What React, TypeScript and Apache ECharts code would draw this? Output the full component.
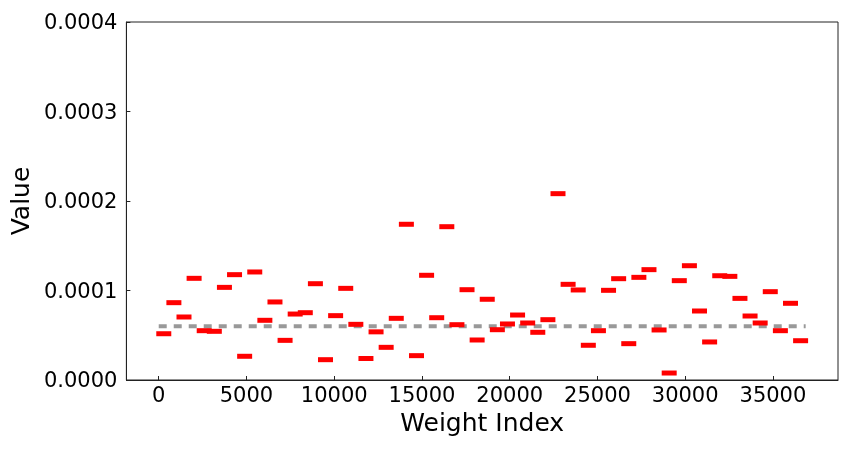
import React, { useEffect, useRef } from "react";
import * as echarts from "echarts";

// Chunk size of the weight index (each marker is the centre of a chunk)
const CHUNK = 576;
const TOTAL = 36864;
const REF_VALUE = 0.00006;

const values: number[] = [
  0.0000517, 0.0000864, 0.0000704, 0.0001136, 0.0000551, 0.0000544, 0.0001035, 0.0001177,
  0.0000265, 0.0001207, 0.0000667, 0.0000872, 0.0000443, 0.0000737, 0.0000752, 0.0001076,
  0.0000227, 0.0000719, 0.0001024, 0.0000622, 0.000024, 0.0000538, 0.0000365, 0.0000689,
  0.000174, 0.0000272, 0.000117, 0.0000696, 0.0001713, 0.0000618, 0.0001009, 0.0000447,
  0.0000902, 0.0000562, 0.0000626, 0.0000726, 0.0000637, 0.0000533, 0.0000674, 0.0002082,
  0.0001069, 0.0001006, 0.0000388, 0.0000551, 0.0001002, 0.0001132, 0.0000406, 0.0001147,
  0.0001233, 0.0000559, 0.0000078, 0.000111, 0.0001277, 0.0000771, 0.0000425, 0.0001165,
  0.0001158, 0.0000912, 0.0000715, 0.0000637, 0.0000987, 0.0000551, 0.0000857, 0.0000439,
];

const xTicks: number[] = [0, 5000, 10000, 15000, 20000, 25000, 30000, 35000];
const yTicks: number[] = [0, 0.0001, 0.0002, 0.0003, 0.0004];

export default function App() {
  const ref = useRef<HTMLDivElement>(null);
  useEffect(() => {
    if (!ref.current) return;
    const chart = echarts.init(ref.current, undefined, { renderer: "svg" });
    const font = "DejaVu Sans";
    const margin = TOTAL * 0.05;
    const points = values.map((v, i) => [i * CHUNK + CHUNK / 2, v]);
    chart.setOption({
      animation: false,
      textStyle: { fontFamily: font },
      grid: {
        left: 124,
        top: 22,
        right: 14,
        bottom: 69,
        show: true,
        borderColor: "#222",
        borderWidth: 1,
        backgroundColor: "transparent",
      },
      xAxis: {
        type: "value",
        min: -margin,
        max: TOTAL + margin,
        name: "Weight Index",
        nameLocation: "middle",
        nameGap: 28,
        nameTextStyle: { fontSize: 25, color: "#000", fontFamily: font },
        axisLine: { show: true, onZero: false, lineStyle: { color: "#222", width: 1 } },
        axisTick: {
          show: true,
          inside: true,
          length: 4,
          customValues: xTicks,
          lineStyle: { color: "#222" },
        },
        axisLabel: {
          customValues: xTicks,
          fontSize: 21,
          color: "#000",
          margin: 4,
          fontFamily: font,
          formatter: (v: number) => String(v),
        },
        splitLine: { show: false },
      },
      yAxis: {
        type: "value",
        min: yTicks[0],
        max: yTicks[yTicks.length - 1],
        interval: 0.0001,
        name: "Value",
        nameLocation: "middle",
        nameGap: 86,
        nameTextStyle: { fontSize: 25, color: "#000", fontFamily: font },
        axisLine: { show: true, onZero: false, lineStyle: { color: "#222", width: 1 } },
        axisTick: { show: true, inside: true, length: 4, lineStyle: { color: "#222" } },
        axisLabel: {
          fontSize: 21,
          color: "#000",
          margin: 9,
          fontFamily: font,
          formatter: (v: number) => v.toFixed(4),
        },
        splitLine: { show: false },
      },
      series: [
        {
          type: "line",
          data: [
            [0, REF_VALUE],
            [TOTAL, REF_VALUE],
          ],
          symbol: "none",
          z: 1,
          lineStyle: { color: "#999999", width: 4, type: [8, 7] },
        },
        {
          type: "scatter",
          data: points,
          symbol: "rect",
          symbolSize: [15, 5],
          z: 2,
          itemStyle: { color: "#ff0000", opacity: 1 },
        },
      ],
    });
    return () => chart.dispose();
  }, []);
  return (
    <div
      ref={ref}
      style={{ position: "fixed", left: 0, top: 0, width: 852, height: 449 }}
    />
  );
}
